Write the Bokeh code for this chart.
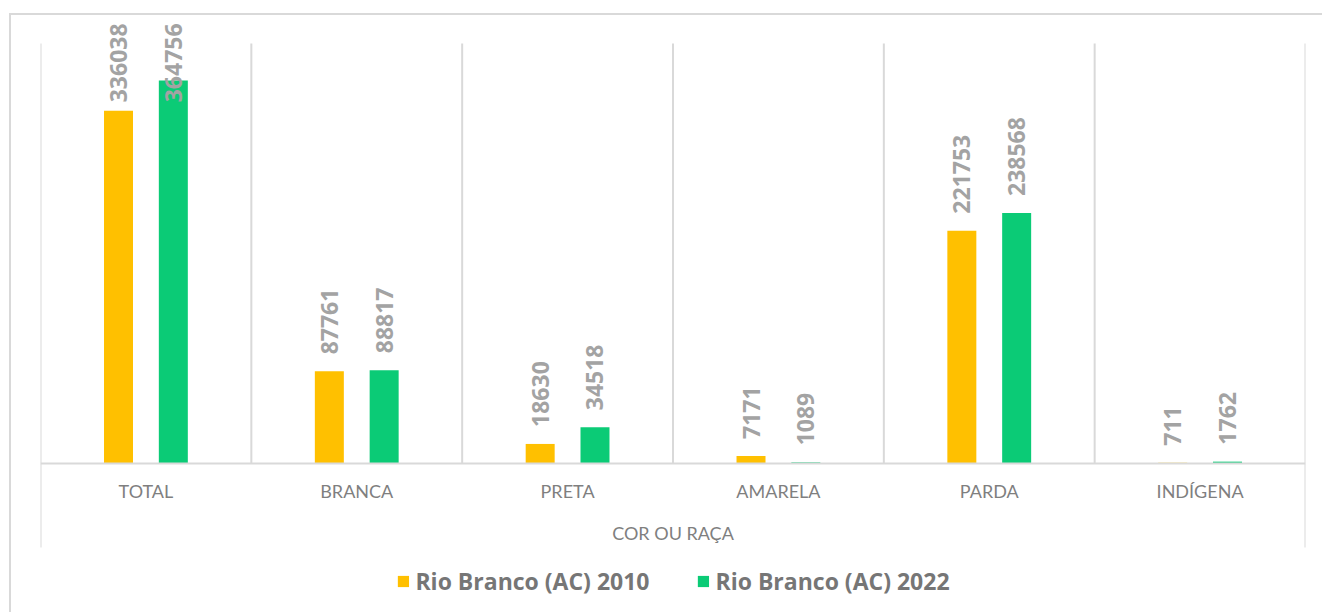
import math
from bokeh.plotting import figure
from bokeh.models import ColumnDataSource, FactorRange, Range1d, Span, Legend, LegendItem, Label
from bokeh.transform import dodge
from bokeh.core.properties import value
from bokeh.embed import file_html
from bokeh.resources import INLINE

# ---------------- data ----------------
categories = ["TOTAL", "BRANCA", "PRETA", "AMARELA", "PARDA", "INDÍGENA"]
values_2010 = [336038, 87761, 18630, 7171, 221753, 711]
values_2022 = [364756, 88817, 34518, 1089, 238568, 1762]
series_names = ["Rio Branco (AC) 2010", "Rio Branco (AC) 2022"]
axis_title = "COR OU RAÇA"
y_axis_max = 400000

# ---------------- geometry / style ----------------
W, H = 1313, 599
border_left, border_right, border_top = 29, 19, 5
plot_px = 420          # pixels from 0 to y_axis_max
above_px = 23          # frame room above y_axis_max (for labels)
below_px = H - border_top - above_px - plot_px   # frame room below zero
bracket_px = 84        # outer bracket length below zero
unit = y_axis_max / plot_px   # data units per pixel

GRID = "#d9d9d9"
C2010 = "#FFC000"
C2022 = "#0BCB76"
LABEL_GRAY = "#a3a3a3"
TEXT_GRAY = "#7f7f7f"

bar_w = 0.1375
off = 0.13
label_pad_px = 17
label_top_px = plot_px + 21
digit_px = 13.3

def label_y(v):
    n = len(str(v))
    return min(v + label_pad_px * unit, (label_top_px - n * digit_px) * unit)

src = ColumnDataSource(dict(
    cat=categories,
    v10=values_2010,
    v22=values_2022,
    t10=[str(v) for v in values_2010],
    t22=[str(v) for v in values_2022],
    y10=[label_y(v) for v in values_2010],
    y22=[label_y(v) for v in values_2022],
))

p = figure(
    width=W, height=H,
    x_range=FactorRange(*categories, range_padding=0),
    y_range=Range1d(-below_px * unit, (plot_px + above_px) * unit),
    min_border_left=border_left, min_border_right=border_right,
    min_border_top=border_top, min_border_bottom=0,
    x_axis_location=None, y_axis_location=None,
    output_backend="svg", toolbar_location=None,
)
p.grid.visible = False
p.outline_line_color = None
p.background_fill_color = "white"
p.border_fill_color = "white"

# category separators (vertical gridlines) and outer brackets
sep_src = ColumnDataSource(dict(
    cat=categories,
    y0=[-bracket_px * unit if i == 0 else 0 for i in range(len(categories))],
    y1=[y_axis_max] * len(categories),
))
p.segment(x0=dodge("cat", -0.5, range=p.x_range), x1=dodge("cat", -0.5, range=p.x_range),
          y0="y0", y1="y1", source=sep_src, line_color=GRID, line_width=2)
end_src = ColumnDataSource(dict(cat=[categories[-1]], y0=[-bracket_px * unit], y1=[y_axis_max]))
p.segment(x0=dodge("cat", 0.5, range=p.x_range), x1=dodge("cat", 0.5, range=p.x_range),
          y0="y0", y1="y1", source=end_src, line_color=GRID, line_width=2)

# horizontal axis line at zero
p.add_layout(Span(location=0, dimension="width", line_color=GRID, line_width=2))

# bars
r10 = p.vbar(x=dodge("cat", -off, range=p.x_range), top="v10", bottom=0, width=bar_w,
             source=src, fill_color=C2010, line_color=None)
r22 = p.vbar(x=dodge("cat", off, range=p.x_range), top="v22", bottom=0, width=bar_w,
             source=src, fill_color=C2022, line_color=None)

# data labels (rotated)
for xo, ycol, tcol in [(-off, "y10", "t10"), (off, "y22", "t22")]:
    p.text(x=dodge("cat", xo, range=p.x_range), y=ycol, text=tcol, source=src,
           angle=math.pi / 2, text_align="left", text_baseline="middle",
           text_font=value("Open Sans"), text_font_size="23px", text_font_style="bold",
           text_color=LABEL_GRAY)

# category labels
p.text(x="cat", y=-27 * unit, text="cat", source=src,
       text_align="center", text_baseline="middle",
       text_font=value("Lato"), text_font_size="18px", text_color=TEXT_GRAY)

# axis title
p.add_layout(Label(x=len(categories) / 2, y=-69 * unit, text=axis_title,
                   text_align="center", text_baseline="middle",
                   text_font="Lato", text_font_size="18px", text_color=TEXT_GRAY))

legend = Legend(
    items=[LegendItem(label=series_names[0], renderers=[r10]),
           LegendItem(label=series_names[1], renderers=[r22])],
    orientation="horizontal", location="bottom_center",
    label_text_font="Open Sans", label_text_font_style="bold",
    label_text_font_size="23px", label_text_color="#767676",
    glyph_width=14, glyph_height=14, label_standoff=6, spacing=46,
    border_line_color=None, background_fill_alpha=0, padding=0, margin=17,
)
p.add_layout(legend)

# outer chart frame (left and top edges)
p.styles = {"margin-left": "9px", "margin-top": "13px",
            "border-left": "2px solid #d9d9d9", "border-top": "2px solid #d9d9d9"}

open("out.html", "w").write(file_html(p, INLINE))
